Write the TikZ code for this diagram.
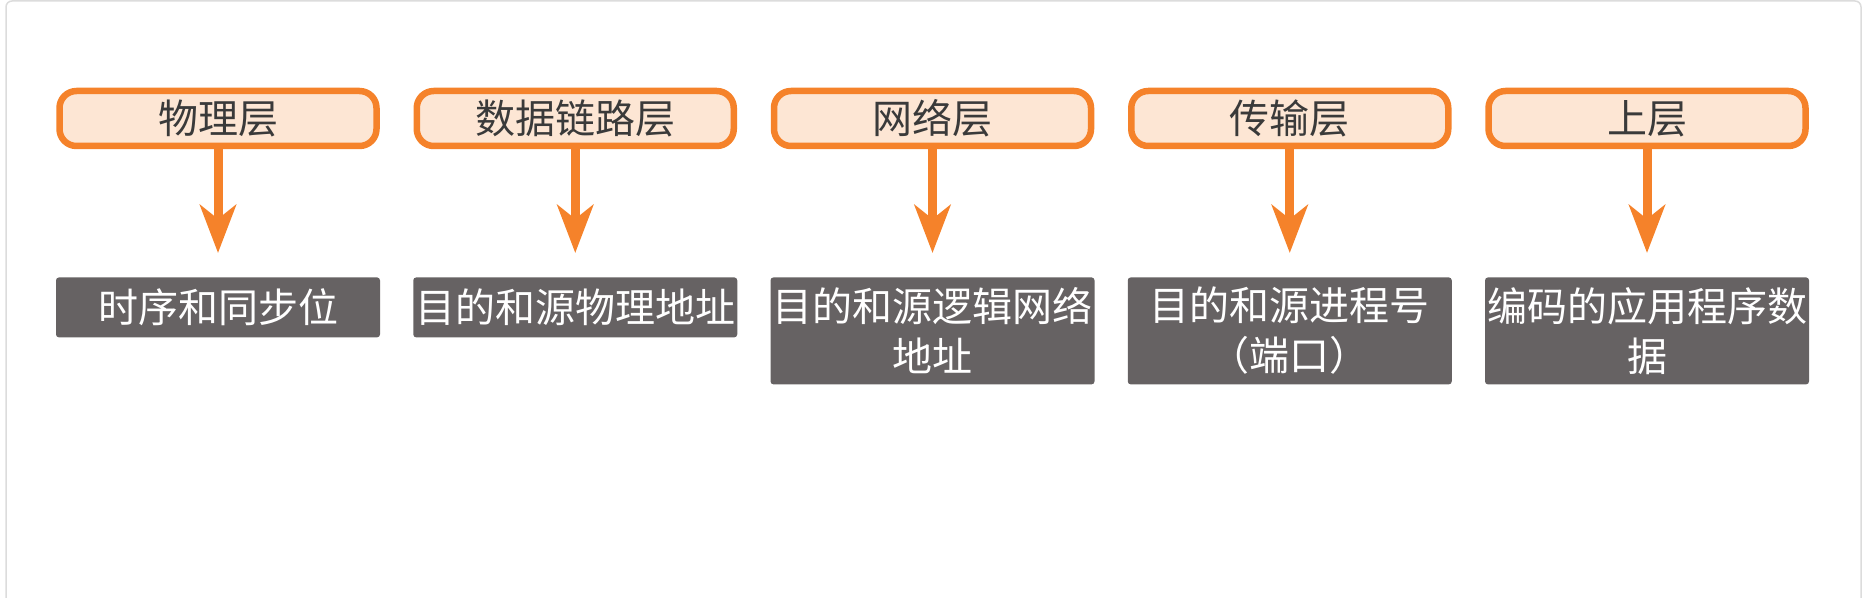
\documentclass[tikz,border=0pt]{standalone}
\usepackage{fontspec}
\newfontfamily\cjk{Noto Sans CJK SC}
\usetikzlibrary{arrows.meta}
\definecolor{layerorange}{HTML}{F5822A}
\definecolor{layerfill}{HTML}{FDE6D4}
\definecolor{infogray}{HTML}{666263}
\definecolor{textdark}{HTML}{3A3A3A}
\definecolor{framegray}{HTML}{DCDCDC}

\begin{document}
\begin{tikzpicture}[x=0.5pt,y=-0.5pt,
    layer/.style={draw=layerorange,fill=layerfill,line width=3.25pt,rounded corners=8.5pt,
        minimum width=158.5pt,minimum height=27.5pt,inner sep=0pt,text=textdark,
        font=\cjk\fontsize{20pt}{25pt}\selectfont},
    info/.style={fill=infogray,rounded corners=1.5pt,minimum width=162pt,minimum height=30pt,
        inner sep=0pt,text=white,align=center,anchor=north,
        font=\cjk\fontsize{20pt}{25pt}\selectfont},
    flow/.style={-{Stealth[length=24pt,width=18pt,inset=7pt]},layerorange,line width=4.5pt,shorten >=12pt}]
        \useasboundingbox (0,0) rectangle (1871,598);
        \draw[framegray,line width=0.75pt,rounded corners=3pt] (6,598) -- (6,1) -- (1861,1) -- (1861,598);

        % top row
        \node[layer] (phy) at (218,118.5) {物理层};
        \node[layer] (dl)  at (575.25,118.5) {数据链路层};
        \node[layer] (net) at (932.5,118.5) {网络层};
        \node[layer] (tr)  at (1289.75,118.5) {传输层};
        \node[layer] (up)  at (1647,118.5) {上层};

        % bottom row
        \node[info] (phyd) at (218,277) {时序和同步位};
        \node[info] (dld)  at (575.25,277) {目的和源物理地址};
        \node[info,minimum height=53.5pt] (netd) at (932.5,277) {目的和源逻辑网络\\地址};
        \node[info,minimum height=53.5pt] (trd)  at (1289.75,277) {目的和源进程号\\（端口）};
        \node[info,minimum height=53.5pt] (upd)  at (1647,277) {编码的应用程序数\\据};

        \draw[flow] (phy) -- (phyd);
        \draw[flow] (dl) -- (dld);
        \draw[flow] (net) -- (netd);
        \draw[flow] (tr) -- (trd);
        \draw[flow] (up) -- (upd);
    \end{tikzpicture}
\end{document}
